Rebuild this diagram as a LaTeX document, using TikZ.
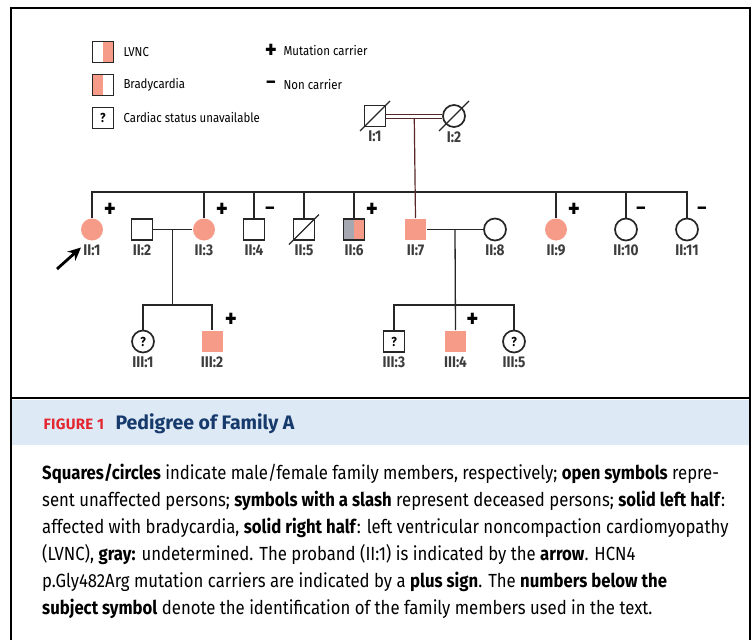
\documentclass[tikz,border=0pt]{standalone}
\usepackage{fontspec}
\setmainfont{Fira Sans}[FakeStretch=0.88]
\newfontfamily\capfont{Fira Sans}
\usepackage{tikz}
\usetikzlibrary{calc,arrows.meta}
\definecolor{lvnc}{RGB}{245,155,136}
\definecolor{undet}{RGB}{166,168,177}
\definecolor{band}{RGB}{221,233,245}
\definecolor{figred}{RGB}{227,38,47}
\definecolor{navy}{RGB}{23,58,108}
\definecolor{mating}{RGB}{88,38,38}
\definecolor{idgray}{RGB}{60,60,60}
\tikzset{>=stealth,
  conn/.style={line width=1.3pt, black!85},
  male/.style={rectangle, draw=black!85, line width=1.7pt, minimum size=21pt, inner sep=0pt, fill=white, label distance=1.5pt},
  female/.style={circle, draw=black!85, line width=1.7pt, minimum size=22pt, inner sep=0pt, fill=white, label distance=1.5pt},
  affected/.style={fill=lvnc, draw=none},
  righthalf/.style={path picture={\fill[lvnc] (path picture bounding box.north) rectangle (path picture bounding box.south east);}},
  lefthalf/.style={path picture={\fill[lvnc] (path picture bounding box.south west) rectangle (path picture bounding box.north);}},
  unknown/.style={font=\fontsize{13}{13}\selectfont\bfseries},
  idlab/.style={font=\fontsize{15.5}{15.5}\selectfont\bfseries, text=idgray},
  id/.style={label={[idlab]below:{#1}}},
  sign/.style={font=\fontsize{26}{26}\selectfont\bfseries, inner sep=0pt},
  nosign/.style={font=\fontsize{20}{20}\selectfont\bfseries, inner sep=0pt},
  legend/.style={anchor=west, font=\fontsize{13}{13}\selectfont},
  slash/.style={line width=1.3pt, black!85}
}

\begin{document}
\begin{tikzpicture}[x=1pt, y=-1pt]
        \useasboundingbox (0,0) rectangle (756,640);
        % frame and caption band
        \fill[band] (12,400) rectangle (749,445);
        \draw[line width=1.5pt] (11,640) -- (11,8) -- (750,8) -- (750,640);
        \draw[line width=2.5pt] (11,398) -- (750,398);

        % legend
        \node[male, righthalf] (kL) at (103,52) {};
        \node[legend] (tL) at (120,52) {LVNC};
        \node[male, lefthalf] (kB) at (103,85) {};
        \node[legend] (tB) at (120,85) {Bradycardia};
        \node[male, unknown] (kU) at (103,118) {?};
        \node[legend] (tU) at (120,118) {Cardiac status unavailable};
        \node[sign] (kP) at (271,51) {+};
        \node[legend] (tP) at (280,51) {Mutation carrier};
        \node[nosign] (kM) at (271,85) {–};
        \node[legend] (tM) at (280,85) {Non carrier};

        % generation I
        \node[male, id={I:1}] (I1) at (375,116) {};
        \node[female, id={I:2}] (I2) at (454,116) {};
        \path (I1) -- (I2) coordinate[midway] (mI);

        % generation II
        \node[female, affected, id={II:1}] (II1) at (92,229.5) {};
        \node[male, id={II:2}] (II2) at (142,229.5) {};
        \node[female, affected, id={II:3}] (II3) at (204,229.5) {};
        \node[male, id={II:4}] (II4) at (254,229.5) {};
        \node[male, id={II:5}] (II5) at (304,229.5) {};
        \node[male, id={II:6}, path picture={\fill[undet] (path picture bounding box.south west) rectangle (path picture bounding box.north);
            \fill[lvnc] (path picture bounding box.north) rectangle (path picture bounding box.south east);}] (II6) at (354,229.5) {};
        \node[male, affected, id={II:7}] (II7) at (415.5,229.5) {};
        \node[female, id={II:8}] (II8) at (495,229.5) {};
        \node[female, affected, id={II:9}] (II9) at (556,229.5) {};
        \node[female, id={II:10}] (II10) at (626,229.5) {};
        \node[female, id={II:11}] (II11) at (687,229.5) {};
        \path (II2) -- (II3) coordinate[midway] (m23);
        \path (II7) -- (II8) coordinate[midway] (m78);

        % generation III
        \node[female, unknown, id={III:1}] (III1) at (143,341.5) {?};
        \node[male, affected, id={III:2}] (III2) at (212,341.5) {};
        \node[male, unknown, id={III:3}] (III3) at (394,341.5) {?};
        \node[male, affected, id={III:4}] (III4) at (455.5,341.5) {};
        \node[female, unknown, id={III:5}] (III5) at (514,341.5) {?};

        % lines
        \coordinate (sib) at (0,192);
        \coordinate (sibIII) at (0,305);
        \draw[conn] (II1.north) -- (II1.north |- sib) -- (II11.north |- sib) -- (II11.north);
        \foreach \n in {II3,II4,II5,II6,II9,II10}
            \draw[conn] (\n.north) -- (\n.north |- sib);
        \draw[mating, line width=1.2pt] (mI) -- (II7.north);
        \draw[mating, double=white, double distance=3pt, line width=1pt] (I1.east) -- (I2.west);
        \draw[conn] (II2.east) -- (II3.west);
        \draw[conn] (II7.east) -- (II8.west);
        \draw[conn] (m23) -- (m23 |- sibIII);
        \draw[conn] (III1.north) -- (III1.north |- sibIII) -- (III2.north |- sibIII) -- (III2.north);
        \draw[conn] (m78) -- (III4.north);
        \draw[conn] (III3.north) -- (III3.north |- sibIII) -- (III5.north |- sibIII) -- (III5.north);

        % deceased
        \foreach \n in {I1,I2,II5}
            \draw[slash] ([shift={(-15,15)}]\n.center) -- ([shift={(15,-15)}]\n.center);

        % carriers
        \node[sign] (c1) at ([shift={(18,-19)}]II1.center) {+};
        \node[sign] (c3) at ([shift={(18,-19)}]II3.center) {+};
        \node[nosign] (c4) at ([shift={(16,-19)}]II4.center) {–};
        \node[sign] (c6) at ([shift={(18,-19)}]II6.center) {+};
        \node[sign] (c9) at ([shift={(18,-19)}]II9.center) {+};
        \node[nosign] (c10) at ([shift={(15,-19)}]II10.center) {–};
        \node[nosign] (c11) at ([shift={(15,-19)}]II11.center) {–};
        \node[sign] (c32) at ([shift={(19,-21)}]III2.center) {+};
        \node[sign] (c34) at ([shift={(17,-21)}]III4.center) {+};

        % proband
        \coordinate (pa) at (57,269);
        \draw[-{Stealth[length=13pt, width=12pt]}, line width=2.8pt] (pa) -- ([shift={(-11,18)}]II1.center);

        % caption
        \node[anchor=west, font=\capfont\fontsize{15}{15}\selectfont\bfseries\addfontfeature{LetterSpace=2}, text=figred] (fig) at (40,424) {FIGURE 1};
        \node[anchor=west, font=\capfont\fontsize{19.5}{19.5}\selectfont\bfseries, text=navy] (title) at (112,424) {Pedigree of Family A};
        \node[anchor=north west, align=left, inner sep=0pt, font=\fontsize{19}{27}\selectfont] (body) at (42,464) {%
            \textbf{Squares/circles} indicate male/female family members, respectively; \textbf{open symbols} repre-\\
            sent unaffected persons; \textbf{symbols with a slash} represent deceased persons; \textbf{solid left half}:\\
            affected with bradycardia, \textbf{solid right half}: left ventricular noncompaction cardiomyopathy\\
            (LVNC), \textbf{gray:} undetermined. The proband (II:1) is indicated by the \textbf{arrow}. HCN4\\
            p.Gly482Arg mutation carriers are indicated by a \textbf{plus sign}. The \textbf{numbers below the}\\
            \textbf{subject symbol} denote the identification of the family members used in the text.};
    \end{tikzpicture}
\end{document}
